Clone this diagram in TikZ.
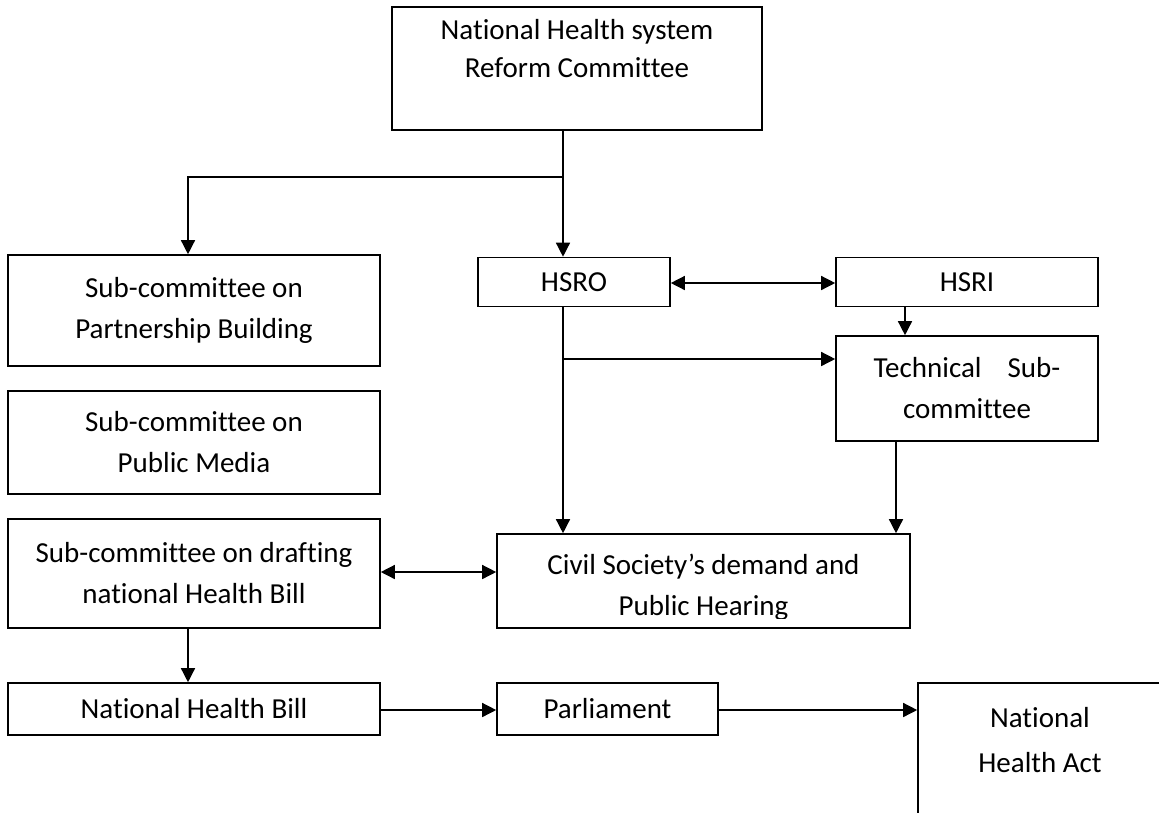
\documentclass[tikz,border=0pt]{standalone}
\usepackage{fontspec}
\setmainfont{Carlito}[Ligatures=NoCommon]
\usetikzlibrary{arrows.meta}
\begin{document}
\begin{tikzpicture}[x=1pt,y=-1pt,
  txt/.style={font=\fontsize{29}{41}\selectfont},
  box/.style={draw, line width=1.6pt, align=center, inner sep=0pt, txt},
  conn/.style={line width=1.4pt},
  arr/.style={conn, -{Triangle[length=14pt,width=14pt]}},
  darr/.style={conn, {Triangle[length=14pt,width=14pt]}-{Triangle[length=14pt,width=14pt]}}]
\useasboundingbox (0,0) rectangle (1159,812);

% boxes
\node[box] (nhsrc) at (577,68.5) {\parbox[c][123pt][t]{370pt}{\centering\baselineskip=38pt\rule{0pt}{32pt}National Health system\\Reform Committee}};
\node[box, minimum width=372pt, minimum height=111pt] (psb) at (194,310.5) {Sub-committee on\\Partnership Building};
\node[box, minimum width=372pt, minimum height=103pt] (pmb) at (194,442.5) {Sub-committee on\\Public Media};
\node[box, minimum width=372pt, minimum height=109pt] (dnb) at (194,573.5) {Sub-committee on drafting\\national Health Bill};
\node[box, minimum width=192pt, minimum height=49pt] (hsro) at (574,282) {HSRO};
\node[box, minimum width=262pt, minimum height=49pt] (hsri) at (967,282) {HSRI};
\node[box, minimum width=262pt, minimum height=105pt] (tech) at (967,388.5) {Technical\hspace{0.9em}Sub-\\committee};
\node[box, minimum width=413pt, minimum height=94pt] (civ) at (703.5,581) {};
\begin{scope}
  \clip (497,534) rectangle (910,618);
  \node[txt, align=center, inner sep=0pt] (civt) at (703.5,587) {Civil Society’s demand and\\Public Hearing};
\end{scope}
\node[box, minimum width=372pt, minimum height=52pt] (nhb) at (194,709) {National Health Bill};
\node[box, minimum width=221pt, minimum height=52pt] (parl) at (607.5,709) {Parliament};
\node[box] (nha) at (1040,756.5) {\parbox[c][147pt][t]{244pt}{\centering\baselineskip=45pt\rule{0pt}{44pt}National\\Health Act}};

% helper coordinates
\coordinate (xa) at (563,0);
\coordinate (xb) at (188,0);
\coordinate (xc) at (905,0);
\coordinate (xd) at (896,0);
\coordinate (j1) at (563,177);
\coordinate (j2) at (563,359);
\coordinate (ya) at (0,283);
\coordinate (yb) at (0,572);
\coordinate (yc) at (0,710);

% connectors
\draw[arr] (nhsrc.south -| xa) -- (hsro.north -| xa);
\draw[arr] (j1) -| (psb.north -| xb);
\draw[darr] (hsro.east |- ya) -- (hsri.west |- ya);
\draw[arr] (hsri.south -| xc) -- (tech.north -| xc);
\draw[arr] (hsro.south -| xa) -- (civ.north -| xa);
\draw[arr] (j2) -- (tech.west |- j2);
\draw[arr] (tech.south -| xd) -- (civ.north -| xd);
\draw[darr] (dnb.east |- yb) -- (civ.west |- yb);
\draw[arr] (dnb.south -| xb) -- (nhb.north -| xb);
\draw[arr] (nhb.east |- yc) -- (parl.west |- yc);
\draw[arr] (parl.east |- yc) -- (nha.west |- yc);
\end{tikzpicture}
\end{document}
